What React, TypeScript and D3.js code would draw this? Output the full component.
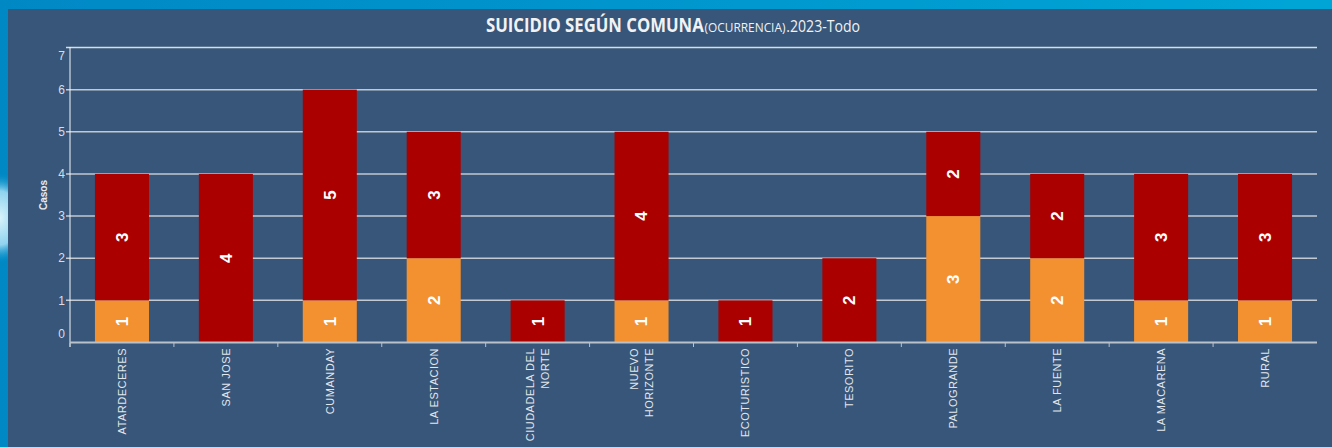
import React from "react";
import * as d3 from "d3";

const categories = [
  "ATARDECERES",
  "SAN JOSE",
  "CUMANDAY",
  "LA ESTACION",
  "CIUDADELA DEL|NORTE",
  "NUEVO|HORIZONTE",
  "ECOTURISTICO",
  "TESORITO",
  "PALOGRANDE",
  "LA FUENTE",
  "LA MACARENA",
  "RURAL",
];
const seriesOrange = [1, 0, 1, 2, 0, 1, 0, 0, 3, 2, 1, 1];
const seriesRed = [3, 4, 5, 3, 1, 4, 1, 2, 2, 2, 3, 3];
const yTicks = [0, 1, 2, 3, 4, 5, 6, 7];
const seriesKeys = ["orange", "red"];
const seriesColors = ["#f39130", "#aa0000"];

const W = 1332;
const H = 447;

export default function App() {
  const x = d3
    .scaleBand<string>()
    .domain(categories)
    .range([70, 1317])
    .paddingInner(0.48)
    .paddingOuter(0.24);
  const y = d3.scaleLinear().domain([0, 7]).range([342.5, 47.5]);

  const rows = categories.map((c, i) => ({
    cat: c,
    orange: seriesOrange[i],
    red: seriesRed[i],
  }));
  const stacked = d3.stack<any>().keys(seriesKeys)(rows);
  const step = x.step();

  return (
    <div style={{ position: "fixed", left: 0, top: 0 }}>
      <svg width={W} height={H} style={{ display: "block" }}>
        <defs>
          <linearGradient id="outer" x1="0" y1="0" x2="1" y2="0">
            <stop offset="0" stopColor="#0088c5" />
            <stop offset="1" stopColor="#00a5d6" />
          </linearGradient>
          <radialGradient id="blob" cx="0.5" cy="0.5" r="0.5">
            <stop offset="0" stopColor="#d8f2fb" />
            <stop offset="0.6" stopColor="#8fd3ee" />
            <stop offset="1" stopColor="#0090c8" stopOpacity="0" />
          </radialGradient>
        </defs>
        <rect x={0} y={0} width={W} height={H} fill="url(#outer)" />
        <ellipse cx={0} cy={218} rx={30} ry={45} fill="url(#blob)" />
        <rect x={8} y={9} width={W - 8} height={H - 9} fill="#37567a" />

        {/* Title */}
        <text
          x={486}
          y={31.5}
          fill="#f2f2f2"
          fontFamily="'Open Sans', 'Liberation Sans', sans-serif"
          textLength={374}
          lengthAdjust="spacingAndGlyphs"
        >
          <tspan fontSize={19} fontWeight="bold">SUICIDIO SEGÚN COMUNA</tspan>
          <tspan fontSize={13.5} dx={1}>(OCURRENCIA)</tspan>
          <tspan fontSize={16} dx={1}>.2023-Todo</tspan>
        </text>

        {/* Gridlines */}
        {yTicks
          .filter((t) => t > 0)
          .map((t) => (
            <line
              key={"g" + t}
              x1={66}
              x2={1317}
              y1={y(t)}
              y2={y(t)}
              stroke={t === 7 ? "#d8dde4" : "#c3c9d1"}
              strokeWidth={1.5}
            />
          ))}

        {/* Y tick labels */}
        {yTicks.map((t) => {
          let yy = y(t);
          if (t === 7) yy += 8;
          if (t === 0) yy -= 9;
          return (
            <text
              key={"yl" + t}
              x={65}
              y={yy}
              dy="0.35em"
              textAnchor="end"
              fontSize={12}
              fill="#d9dde3"
              fontFamily="'Liberation Sans', Arial, sans-serif"
            >
              {t}
            </text>
          );
        })}

        {/* Casos label */}
        <text
          transform={`translate(43,195) rotate(-90)`}
          textAnchor="middle"
          dy="0.35em"
          fontSize={10}
          fontWeight="bold"
          fill="#e8ebef"
          fontFamily="'Liberation Sans', Arial, sans-serif"
        >
          Casos
        </text>

        {/* Bars */}
        {stacked.map((s, si) =>
          s.map((d, i) => {
            const v = d[1] - d[0];
            if (v <= 0) return null;
            const bx = x(categories[i])!;
            return (
              <rect
                key={`b${si}-${i}`}
                x={bx}
                y={y(d[1])}
                width={x.bandwidth()}
                height={y(d[0]) - y(d[1])}
                fill={seriesColors[si]}
              />
            );
          })
        )}

        {/* Value labels */}
        {stacked.map((s, si) =>
          s.map((d, i) => {
            const v = d[1] - d[0];
            if (v <= 0) return null;
            const cx = x(categories[i])! + x.bandwidth() / 2;
            const cy = y((d[0] + d[1]) / 2);
            return (
              <text
                key={`v${si}-${i}`}
                transform={`translate(${cx},${cy}) rotate(-90)`}
                textAnchor="middle"
                dy="0.35em"
                fontSize={17}
                fontWeight="bold"
                fill="#ffffff"
                fontFamily="'Liberation Sans', Arial, sans-serif"
              >
                {v}
              </text>
            );
          })
        )}

        {/* Axes */}
        <line x1={70} x2={70} y1={47} y2={347} stroke="#f4f6f8" strokeWidth={1} />
        <line x1={70} x2={1317} y1={342.5} y2={342.5} stroke="#b9c1ca" strokeWidth={2} />
        {categories.map((c, i) => (
          <line
            key={"xt" + i}
            x1={70 + i * step}
            x2={70 + i * step}
            y1={343}
            y2={347}
            stroke="#b9c1ca"
            strokeWidth={1}
          />
        ))}

        {/* X labels */}
        {categories.map((c) => {
          const lines = c.split("|");
          const cx = x(c)! + x.bandwidth() / 2;
          return (
            <g key={"xl" + c} transform={`translate(${cx},348) rotate(-90)`}>
              {lines.map((ln, li) => (
                <text
                  key={li}
                  x={0}
                  y={(li - (lines.length - 1) / 2) * 15}
                  dy="0.35em"
                  textAnchor="end"
                  fontSize={11}
                  letterSpacing={0.5}
                  fill="#e3e7ec"
                  fontFamily="'Liberation Sans', Arial, sans-serif"
                >
                  {ln}
                </text>
              ))}
            </g>
          );
        })}
      </svg>
    </div>
  );
}
